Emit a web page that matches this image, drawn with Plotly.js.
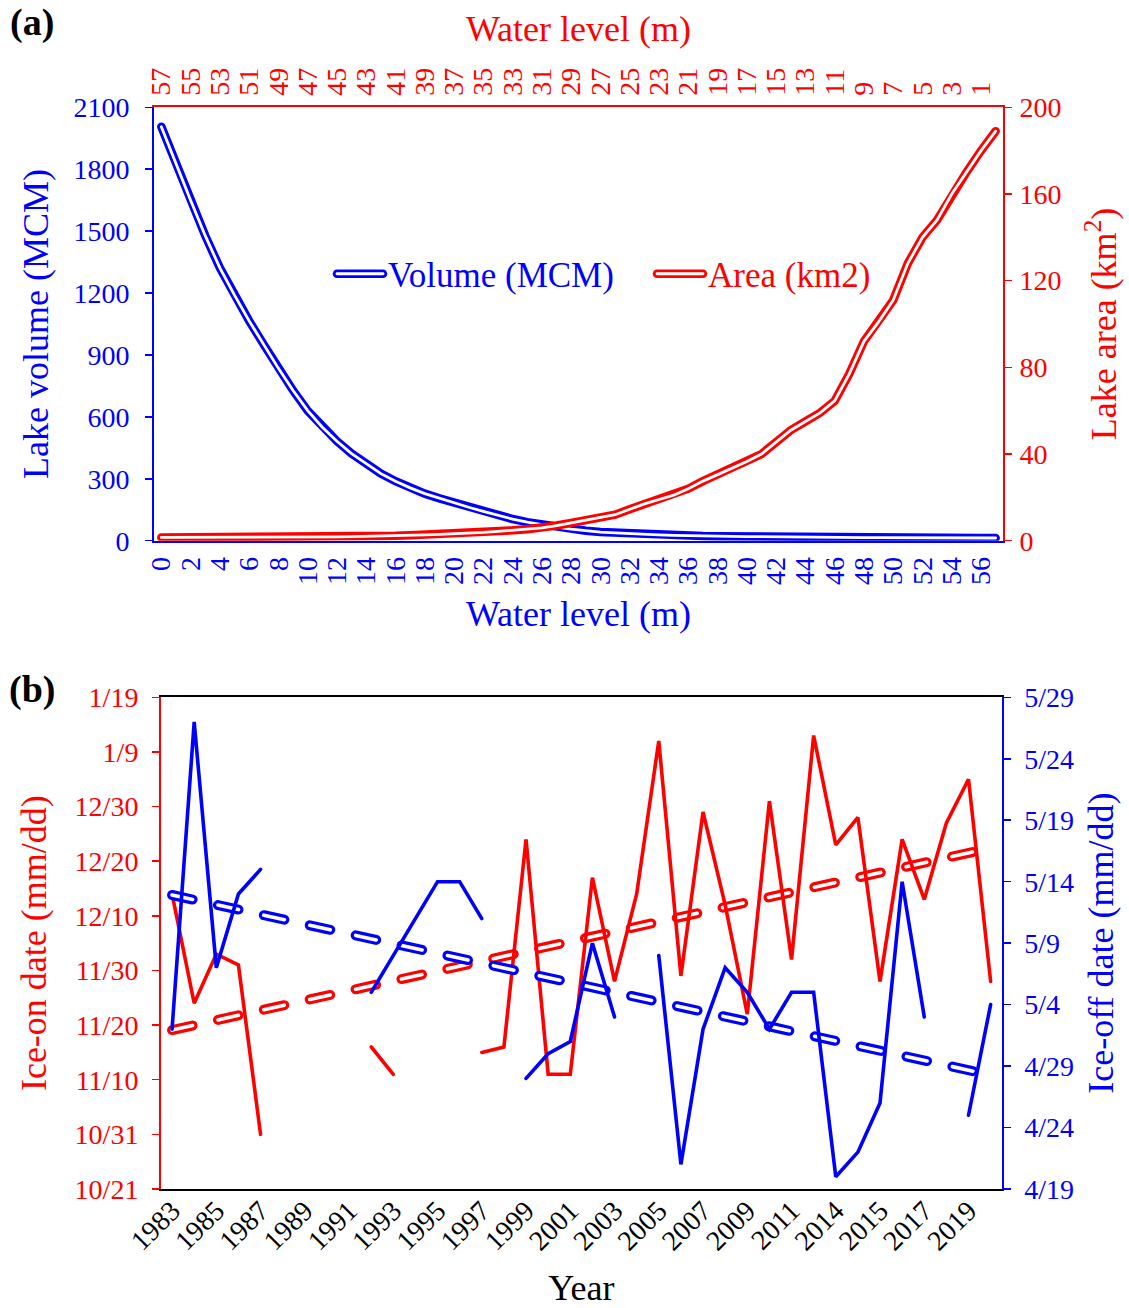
<!DOCTYPE html>
<html>
<head>
<meta charset="utf-8">
<script src="https://cdn.plot.ly/plotly-3.0.1.min.js"></script>
<style>
html,body{margin:0;padding:0;background:#fff;}
#chart{width:1129px;height:1308px;}
.scatterlayer path.js-line{stroke-linecap:round;}
.legendlines path{stroke-linecap:round;}
</style>
</head>
<body>
<div id="chart"></div>
<script>
// ---------- Panel (a): water level vs lake volume / area ----------
const waterLevel = [0,1,2,3,4,5,6,7,8,9,10,11,12,13,14,15,16,17,18,19,20,21,22,23,24,25,26,27,28,29,30,31,32,33,34,35,36,37,38,39,40,41,42,43,44,45,46,47,48,49,50,51,52,53,54,55,56,57];
const volumeMCM = [2006,1825,1650,1478,1322,1190,1065,950,835,728,
                   630,550,482,422,372,325,288,256,228,205,
                   184,162,142,122,105,90,77,66,56,48,
                   42,38,34,31,28,26,24,23,22,21,
                   20,19,19,18,17,17,16,16,15,15,
                   15,14,14,14,14,13,13,13];
const waterLevelTop = [57,56,55,54,53,52,51,50,49,48,47,46,45,44,43,42,41,40,39,38,37,36,35,34,33,32,31,30,29,28,27,26,25,24,23,22,21,20,19,18,17,16,15,14,13,12,11,10,9,8,7,6,5,4,3,2,1,0];
const areaKm2 = [1.5,1.5,1.5,1.5,1.5,1.5,1.6,1.6,1.6,1.7,
                 1.7,1.8,1.8,1.9,2.0,2.1,2.3,2.5,2.7,2.9,
                 3.1,3.4,3.8,4.3,4.8,5.3,5.9,7.0,8.2,9.4,
                 10.5,12.0,14.5,17.0,19.0,21.0,24.0,27.5,30.5,33.5,
                 36.5,40.0,45.5,51.0,55.0,59.0,64.5,77.0,92.0,101.0,
                 111.0,128.0,140.0,148.0,160.0,170.0,180.0,189.0];
const bottomTickLabels = ['0','2','4','6','8','10','12','14','16','18','20','22','24','26','28','30','32','34','36','38','40','42','44','46','48','50','52','54','56'];
const topTickLabels = ['57','55','53','51','49','47','45','43','41','39','37','35','33','31','29','27','25','23','21','19','17','15','13','11','9','7','5','3','1'];

// ---------- Panel (b): ice-on / ice-off dates ----------
const years = ['1983','1984','1985','1986','1987','1988','1989','1990','1991','1992',
               '1993','1994','1995','1996','1997','1998','1999','2000','2001','2002',
               '2003','2004','2005','2006','2007','2008','2009','2010','2011','2013',
               '2014','2014','2015','2016','2017','2018','2019','2020'];
const iceOn = ['12-14','11-24','12-03','12-01','10-31',null,null,null,null,'11-16',
               '11-11',null,null,null,'11-15','11-16','12-24','11-11','11-11','12-17',
               '11-28','12-14','01-11','11-29','12-29','12-12','11-22','12-31','12-02','01-12',
               '12-23','12-28','11-28','12-24','12-13','12-27','01-04','11-28'];
const iceOff = ['05-02','05-27','05-07','05-13','05-15',null,null,null,null,'05-05',
                '05-08','05-11','05-14','05-14','05-11',null,'04-28','04-30','05-01','05-09',
                '05-03',null,'05-08','04-21','05-02','05-07','05-05','05-02','05-05','05-05',
                '04-20','04-22','04-26','05-14','05-03',null,'04-25','05-04'];
const trendIndex = [0, 37];
const iceOnTrend = ['11-19 02:00', '12-22 10:00'];
const iceOffTrend = ['05-12 22:00', '04-28 06:30'];

// ---------- helpers ----------
const F = 'Liberation Serif, Times New Roman, serif';
const BLUE = '#0000FF', RED = '#FF0000', BLACK = '#000000';
function toDate(s){
  if(s === null) return null;
  const m = parseInt(s.slice(0,2),10);
  return (m >= 9 ? '2000-' : '2001-') + s;
}
const yearIdx = years.map((_, i) => i);
const yearTickVals = yearIdx.filter(i => i % 2 === 0);
const yearTickText = yearTickVals.map(i => years[i]);
const boundsA = []; for(let b = -0.5; b <= 57.5; b += 2) boundsA.push(b);
const boundsB = []; for(let b = -0.5; b <= 37.5; b += 1) boundsB.push(b);

const TICK = 28, TITLE = 36, TL = 7, TW = 1.5;

function ax(color, extra){
  return Object.assign({
    showgrid:false, zeroline:false, showline:true, linecolor:color, linewidth:2,
    ticks:'outside', ticklen:TL, tickwidth:TW, tickcolor:color,
    tickfont:{family:F, size:TICK, color:color}
  }, extra);
}
function overlay(color, extra){
  return Object.assign({
    showgrid:false, zeroline:false, showline:false, showticklabels:false,
    ticklen:TL, tickwidth:TW, tickcolor:color
  }, extra);
}

const DASH = '21px,26px';
const OUT_A = 8.5, IN_A = 2.8, OUT_B = 10, IN_B = 3.6;
const traces = [
  {x:waterLevel, y:volumeMCM, xaxis:'x', yaxis:'y', mode:'lines', name:'Volume (MCM)',
   line:{color:BLUE, width:OUT_A}, legend:'legend'},
  {x:waterLevel, y:volumeMCM, xaxis:'x', yaxis:'y', mode:'lines', name:'Volume (MCM)',
   line:{color:'#FFFFFF', width:IN_A}, legend:'legend2'},
  {x:waterLevelTop, y:areaKm2, xaxis:'x2', yaxis:'y2', mode:'lines', name:'Area (km2)',
   line:{color:RED, width:OUT_A}, legend:'legend3'},
  {x:waterLevelTop, y:areaKm2, xaxis:'x2', yaxis:'y2', mode:'lines', name:'Area (km2)',
   line:{color:'#FFFFFF', width:IN_A}, legend:'legend4'},

  {x:trendIndex, y:iceOnTrend.map(toDate), xaxis:'x3', yaxis:'y3', mode:'lines', showlegend:false,
   line:{color:RED, width:OUT_B, dash:DASH}},
  {x:trendIndex, y:iceOnTrend.map(toDate), xaxis:'x3', yaxis:'y3', mode:'lines', showlegend:false,
   line:{color:'#FFFFFF', width:IN_B, dash:DASH}},
  {x:yearIdx, y:iceOn.map(toDate), xaxis:'x3', yaxis:'y3', mode:'lines', showlegend:false,
   line:{color:RED, width:3.6}},

  {x:trendIndex, y:iceOffTrend.map(toDate), xaxis:'x3', yaxis:'y4', mode:'lines', showlegend:false,
   line:{color:BLUE, width:OUT_B, dash:DASH}},
  {x:trendIndex, y:iceOffTrend.map(toDate), xaxis:'x3', yaxis:'y4', mode:'lines', showlegend:false,
   line:{color:'#FFFFFF', width:IN_B, dash:DASH}},
  {x:yearIdx, y:iceOff.map(toDate), xaxis:'x3', yaxis:'y4', mode:'lines', showlegend:false,
   line:{color:BLUE, width:3.6}}
];

const domAx = [154/1129, 1003/1129];
const domAy = [1 - 540.7/1308, 1 - 107.3/1308];
const domBx = [161/1129, 1001.7/1129];
const domBy = [1 - 1189/1308, 1 - 697.3/1308];

const onRange = ['2000-10-21', '2001-01-19'];
const offRange = ['2001-04-19', '2001-05-29'];
const DAY = 86400000;

function legendAt(xpx, color){
  return {x:xpx/1129, xanchor:'left', y:1 - 274/1308, yanchor:'middle',
          bgcolor:'rgba(0,0,0,0)', borderwidth:0, itemwidth:46,
          font:{family:F, size:35, color:color}};
}

const layout = {
  width:1129, height:1308, margin:{l:0, r:0, t:0, b:0},
  paper_bgcolor:'#FFFFFF', plot_bgcolor:'rgba(0,0,0,0)',
  font:{family:F, color:BLACK},
  showlegend:true,
  // panel (a)
  xaxis: ax(BLUE, {domain:domAx, anchor:'y', range:[-0.5, 57.5], tickmode:'array',
    tickvals:bottomTickLabels.map(Number), ticktext:bottomTickLabels, ticks:'', tickangle:-90,
    ticklabelstandoff:3,
    title:{text:'Water level (m)', font:{family:F, size:TITLE, color:BLUE}, standoff:17}}),
  xaxis2: ax(RED, {overlaying:'x', side:'top', anchor:'y', range:[57.5, -0.5], tickmode:'array',
    tickvals:topTickLabels.map(Number), ticktext:topTickLabels, ticks:'', tickangle:-90,
    ticklabelstandoff:4,
    title:{text:'Water level (m)', font:{family:F, size:TITLE, color:RED}, standoff:15}}),
  xaxis4: overlay(BLUE, {overlaying:'x', side:'bottom', anchor:'y', range:[-0.5, 57.5],
    tickmode:'array', tickvals:boundsA, ticks:'outside'}),
  xaxis5: overlay(BLUE, {overlaying:'x', side:'bottom', anchor:'y', range:[-0.5, 57.5],
    tickmode:'array', tickvals:boundsA, ticks:'inside'}),
  xaxis6: overlay(RED, {overlaying:'x', side:'top', anchor:'y', range:[-0.5, 57.5],
    tickmode:'array', tickvals:boundsA, ticks:'outside'}),
  xaxis7: overlay(RED, {overlaying:'x', side:'top', anchor:'y', range:[-0.5, 57.5],
    tickmode:'array', tickvals:boundsA, ticks:'inside'}),
  yaxis: ax(BLUE, {domain:domAy, anchor:'x', range:[0, 2100], tick0:0, dtick:300,
    ticklabelstandoff:10,
    title:{text:'Lake volume (MCM)', font:{family:F, size:TITLE, color:BLUE}, standoff:14}}),
  yaxis2: ax(RED, {overlaying:'y', side:'right', anchor:'x', range:[0, 200], tick0:0, dtick:40,
    ticklabelstandoff:2,
    title:{text:'Lake area (km<sup>2</sup>)', font:{family:F, size:TITLE, color:RED}, standoff:30}}),
  yaxis5: overlay(BLUE, {overlaying:'y', side:'left', anchor:'x', range:[0, 2100], tick0:0, dtick:300, ticks:'inside'}),
  yaxis6: overlay(RED, {overlaying:'y', side:'right', anchor:'x', range:[0, 200], tick0:0, dtick:40, ticks:'inside'}),
  // panel (b)
  xaxis3: ax(BLACK, {domain:domBx, anchor:'y3', range:[-0.5, 37.5], tickmode:'array',
    tickvals:yearTickVals, ticktext:yearTickText, ticks:'', tickangle:-45, mirror:true,
    ticklabelstandoff:-8,
    title:{text:'Year', font:{family:F, size:TITLE, color:BLACK}, standoff:20}}),
  xaxis8: overlay(BLACK, {overlaying:'x3', side:'bottom', anchor:'y3', range:[-0.5, 37.5],
    tickmode:'array', tickvals:boundsB, ticks:'outside'}),
  xaxis9: overlay(BLACK, {overlaying:'x3', side:'bottom', anchor:'y3', range:[-0.5, 37.5],
    tickmode:'array', tickvals:boundsB, ticks:'inside'}),
  yaxis3: ax(RED, {domain:domBy, anchor:'x3', type:'date', range:onRange, tick0:onRange[0],
    dtick:10*DAY, tickformat:'%-m/%-d', ticklabelstandoff:8,
    title:{text:'Ice-on date (mm/dd)', font:{family:F, size:TITLE, color:RED}, standoff:17}}),
  yaxis4: ax(BLUE, {overlaying:'y3', side:'right', anchor:'x3', type:'date', range:offRange,
    tick0:offRange[0], dtick:5*DAY, tickformat:'%-m/%-d', ticklabelstandoff:8,
    title:{text:'Ice-off date (mm/dd)', font:{family:F, size:TITLE, color:BLUE}, standoff:15}}),
  yaxis7: overlay(RED, {overlaying:'y3', side:'left', anchor:'x3', type:'date', range:onRange,
    tick0:onRange[0], dtick:10*DAY, ticks:'inside'}),
  yaxis8: overlay(BLUE, {overlaying:'y3', side:'right', anchor:'x3', type:'date', range:offRange,
    tick0:offRange[0], dtick:5*DAY, ticks:'inside'}),
  legend: legendAt(332, BLUE),
  legend2: legendAt(332, 'rgba(0,0,0,0)'),
  legend3: legendAt(652, RED),
  legend4: legendAt(652, 'rgba(0,0,0,0)'),
  annotations:[
    {text:'<b>(a)</b>', xref:'paper', yref:'paper', x:32/1129, y:1 - 22/1308,
     xanchor:'center', yanchor:'middle', showarrow:false, font:{family:F, size:38, color:BLACK}},
    {text:'<b>(b)</b>', xref:'paper', yref:'paper', x:32/1129, y:1 - 690/1308,
     xanchor:'center', yanchor:'middle', showarrow:false, font:{family:F, size:38, color:BLACK}}
  ]
};

Plotly.newPlot('chart', traces, layout, {staticPlot:true, displayModeBar:false});
</script>
</body>
</html>
